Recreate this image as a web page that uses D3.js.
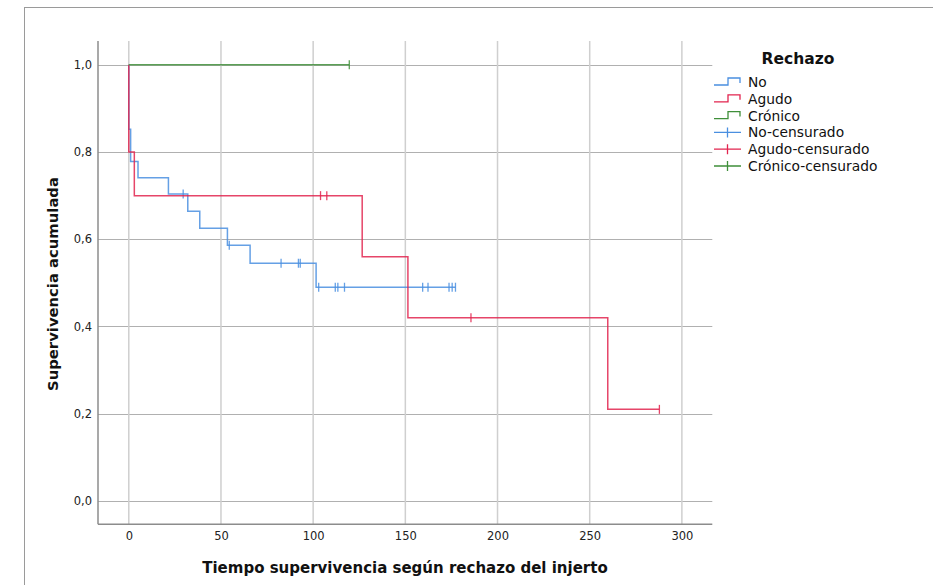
<!DOCTYPE html>
<html>
<head>
<meta charset="utf-8">
<script src="https://cdn.jsdelivr.net/npm/d3@7"></script>
<style>
  html, body { margin: 0; padding: 0; background: #fff; }
  svg { display: block; font-family: "DejaVu Sans", Verdana, sans-serif; }
</style>
</head>
<body>
<svg id="chart" width="933" height="585"></svg>
<script>
// Kaplan–Meier estimates by type of graft rejection
const groups = ["No", "Agudo", "Crónico"];
const groupColors = ["#4a8fe0", "#e2244f", "#3f8f3a"];

// event times and survival after each event
const timesNo = [0, 1, 5, 21.5, 32, 38.5, 53.5, 65.8, 101.6];
const survNo = [0.852, 0.778, 0.741, 0.704, 0.664, 0.625, 0.586, 0.545, 0.490];
const censorNo = [29.5, 54.5, 82.6, 92, 93, 103, 112, 113.4, 117, 159.4, 162.3, 173.7, 175.4, 177.2];

const timesAgudo = [0, 3, 126.6, 151.4, 259.8];
const survAgudo = [0.80, 0.70, 0.56, 0.42, 0.21];
const censorAgudo = [104, 107.4, 185.6, 287.8];

const timesCronico = [];
const survCronico = [];
const censorCronico = [119.6];

const xTicks = [0, 50, 100, 150, 200, 250, 300];
const yTicks = [0, 0.2, 0.4, 0.6, 0.8, 1.0];
const legendLabels = ["No", "Agudo", "Crónico", "No-censurado", "Agudo-censurado", "Crónico-censurado"];

const svg = d3.select("#chart");

// outer frame
svg.append("rect")
  .attr("x", 24.5).attr("y", 7.5)
  .attr("width", 940).attr("height", 620)
  .attr("fill", "none").attr("stroke", "#9a9a9a").attr("stroke-width", 1);

const plotLeft = 98, plotRight = 712.3, plotTop = 41, plotBottom = 524.3;
const x = d3.scaleLinear().domain([-16.7, 316.5]).range([plotLeft, plotRight]);
const y = d3.scaleLinear().domain([-0.0535, 1.0545]).range([plotBottom, plotTop]);

// grid
const grid = svg.append("g");
grid.selectAll("line.h").data(yTicks).join("line")
  .attr("x1", plotLeft).attr("x2", plotRight)
  .attr("y1", d => Math.round(y(d)) + 0.5).attr("y2", d => Math.round(y(d)) + 0.5)
  .attr("stroke", "#b0b0b0").attr("stroke-width", 1);
grid.selectAll("line.v").data(xTicks).join("line")
  .attr("y1", plotTop).attr("y2", plotBottom)
  .attr("x1", d => x(d)).attr("x2", d => x(d))
  .attr("stroke", "#cfcfcf").attr("stroke-width", 1.5);

// axes
const fmt = d => d.toFixed(1).replace(".", ",");
const yAxis = svg.append("g")
  .attr("transform", `translate(${plotLeft},0)`)
  .call(d3.axisLeft(y).tickValues(yTicks).tickFormat(fmt).tickSize(0).tickPadding(6));
const xAxis = svg.append("g")
  .attr("transform", `translate(0,${plotBottom})`)
  .call(d3.axisBottom(x).tickValues(xTicks).tickSize(0).tickPadding(8));
[yAxis, xAxis].forEach(a => {
  a.select(".domain").attr("stroke", "#8c8c8c").attr("stroke-width", 1.5);
  a.selectAll("text").attr("font-family", "DejaVu Sans").attr("font-size", 11.5).attr("fill", "#222");
});
// axis lines span the whole plot area
yAxis.select(".domain").attr("d", `M0,${plotTop}V${plotBottom}`);
xAxis.select(".domain").attr("d", `M${plotLeft},0H${plotRight}`);

// axis titles
svg.append("text")
  .attr("x", 405).attr("y", 573)
  .attr("text-anchor", "middle")
  .attr("font-weight", "bold").attr("font-size", 15).attr("fill", "#111")
  .text("Tiempo supervivencia según rechazo del injerto");
svg.append("text")
  .attr("transform", "translate(58,284) rotate(-90)")
  .attr("text-anchor", "middle")
  .attr("font-weight", "bold").attr("font-size", 14.8).attr("fill", "#111")
  .text("Supervivencia acumulada");

// survival curves
const series = [
  { times: timesNo, surv: survNo, censor: censorNo },
  { times: timesAgudo, surv: survAgudo, censor: censorAgudo },
  { times: timesCronico, surv: survCronico, censor: censorCronico }
];

function survAt(s, t) {
  let v = 1;
  s.times.forEach((ti, i) => { if (ti <= t) v = s.surv[i]; });
  return v;
}

const line = d3.line().x(d => x(d[0])).y(d => y(d[1])).curve(d3.curveStepAfter);
const curves = svg.append("g");

series.forEach((s, i) => {
  const pts = [[0, 1]];
  s.times.forEach((t, j) => pts.push([t, s.surv[j]]));
  const tEnd = d3.max(s.censor.concat(s.times));
  pts.push([tEnd, survAt(s, tEnd)]);
  curves.append("path")
    .attr("d", line(pts))
    .attr("fill", "none")
    .attr("stroke", groupColors[i])
    .attr("stroke-width", 1.5)
    .attr("stroke-opacity", 0.85);
  curves.selectAll(null).data(s.censor).join("line")
    .attr("x1", d => x(d)).attr("x2", d => x(d))
    .attr("y1", d => y(survAt(s, d)) - 4.5)
    .attr("y2", d => y(survAt(s, d)) + 4.5)
    .attr("stroke", groupColors[i])
    .attr("stroke-width", 1.3)
    .attr("stroke-opacity", 0.85);
});

// legend
const lg = svg.append("g");
lg.append("text")
  .attr("x", 798).attr("y", 64)
  .attr("text-anchor", "middle")
  .attr("font-weight", "bold").attr("font-size", 15.5).attr("fill", "#111")
  .text("Rechazo");

const rowY = i => 82 + i * 16.8;
legendLabels.forEach((lab, i) => {
  const c = groupColors[i % 3];
  const cy = rowY(i);
  if (i < 3) {
    lg.append("path")
      .attr("d", `M714,${cy + 3}H728V${cy - 4}H740V${cy + 1}`)
      .attr("fill", "none").attr("stroke", c).attr("stroke-width", 1.3);
  } else {
    lg.append("path")
      .attr("d", `M714,${cy}H741M727.5,${cy - 5}V${cy + 5}`)
      .attr("fill", "none").attr("stroke", c).attr("stroke-width", 1.3);
  }
  lg.append("text")
    .attr("x", 748).attr("y", cy + 5)
    .attr("font-size", 13.8).attr("fill", "#111")
    .text(lab);
});
</script>
</body>
</html>
